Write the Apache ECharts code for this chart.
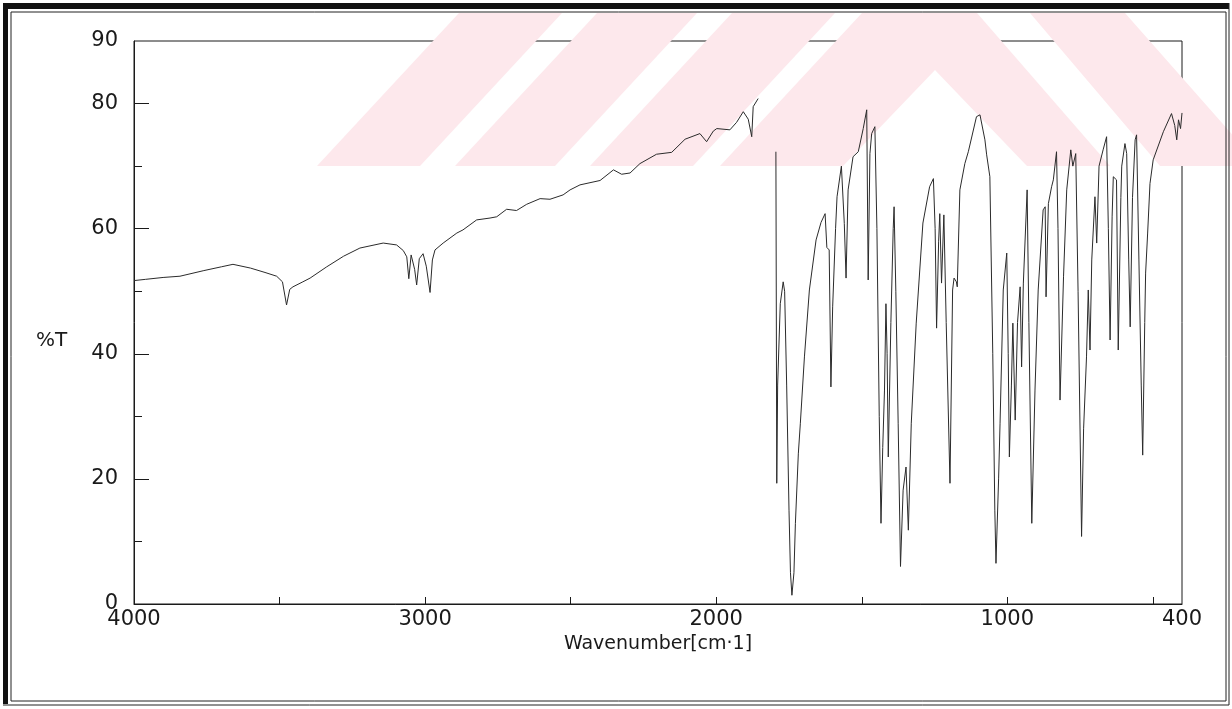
<!DOCTYPE html>
<html>
<head>
<meta charset="utf-8">
<title>IR spectrum</title>
<script src="https://cdn.jsdelivr.net/npm/echarts@6/dist/echarts.min.js"></script>
<style>
  html, body { margin: 0; padding: 0; background: #ffffff; }
  #chart { width: 1232px; height: 709px; }
</style>
</head>
<body>
<div id="chart"></div>
<script>
// Wavenumber (cm-1) and transmittance (%T) of the recorded spectrum, high to low wavenumber.
// A null marks the pen-lift between the two recorded sections.
const wavenumbers = [
  4000, 3960, 3900, 3842, 3760, 3700, 3660, 3600, 3550, 3510, 3490, 3476, 3465, 3454, 3420,
  3395, 3338, 3280, 3224, 3144, 3098, 3075, 3063, 3056, 3048, 3036, 3029, 3020, 3007, 2996,
  2983, 2975, 2966, 2938, 2891, 2870, 2823, 2777, 2754, 2720, 2686, 2651, 2605, 2571, 2526,
  2502, 2468, 2399, 2353, 2325, 2296, 2262, 2205, 2153, 2107, 2056, 2033, 2010, 1998, 1953,
  1930, 1907, 1890, 1884, 1878, 1873, 1856, 1830,
  1795, 1792, 1789, 1780, 1770, 1765, 1758, 1750, 1745, 1740, 1733, 1728, 1718, 1711, 1697,
  1680, 1657, 1640, 1626, 1620, 1612, 1606, 1600, 1590, 1585, 1570, 1560, 1554, 1547, 1530,
  1512, 1495, 1483, 1478, 1472, 1466, 1455, 1448, 1440, 1434, 1428, 1422, 1417, 1413, 1409,
  1400, 1392, 1389, 1383, 1375, 1367, 1358, 1348, 1340, 1330, 1313, 1290, 1267, 1254, 1248,
  1243, 1236, 1232, 1226, 1218, 1210, 1197, 1188, 1183, 1175, 1172, 1163, 1146, 1134, 1106,
  1094, 1077, 1071, 1060, 1050, 1043, 1039, 1030, 1025, 1014, 1002, 997, 993, 986, 981,
  973, 965, 956, 951, 945, 932, 926, 916, 905, 894, 877, 870, 867, 859, 848,
  842, 831, 826, 819, 807, 796, 782, 775, 765, 757, 745, 738, 728, 722, 716,
  710, 699, 693, 685, 671, 659, 653, 647, 640, 636, 625, 619, 610, 607, 596,
  590, 583, 578, 570, 561, 556, 548, 540, 535, 528, 525, 518, 510, 499, 464,
  436, 425, 418, 412, 405, 400
];
const transmittance = [
  51.7, 51.9, 52.2, 52.4, 53.3, 53.9, 54.3, 53.7, 53.0, 52.4, 51.5, 47.8, 50.3, 50.7, 51.5,
  52.1, 53.9, 55.6, 56.9, 57.7, 57.4, 56.5, 55.5, 52.0, 55.8, 53.5, 51.0, 55.2, 56.0, 54.0,
  49.8, 55.0, 56.6, 57.7, 59.3, 59.8, 61.4, 61.7, 61.9, 63.1, 62.9, 63.9, 64.8, 64.7, 65.4,
  66.2, 67.0, 67.7, 69.4, 68.7, 68.9, 70.4, 71.9, 72.2, 74.3, 75.2, 73.9, 75.6, 76.0, 75.8,
  77.0, 78.7, 77.5, 76.1, 74.7, 79.5, 80.8, null,
  72.3, 19.3, 35.0, 48.0, 51.5, 50.0, 35.0, 15.0, 5.0, 1.4, 5.0, 12.9, 24.0, 28.9, 39.5,
  50.2, 58.2, 61.0, 62.4, 57.0, 56.6, 34.7, 47.5, 60.0, 65.1, 70.0, 60.8, 52.1, 66.2, 71.5,
  72.3, 76.0, 79.0, 51.8, 72.0, 75.2, 76.3, 60.0, 30.0, 12.9, 25.0, 34.2, 48.0, 40.0, 23.5,
  45.0, 60.0, 63.5, 50.0, 28.9, 6.0, 18.2, 21.9, 11.8, 28.9, 44.9, 60.9, 66.7, 68.0, 60.0,
  44.1, 58.0, 62.4, 51.3, 62.2, 45.0, 19.3, 50.2, 52.1, 51.5, 50.7, 66.2, 70.4, 72.3, 77.9,
  78.2, 74.2, 71.8, 68.3, 40.0, 15.0, 6.5, 20.0, 28.9, 50.2, 56.1, 40.0, 23.5, 35.0, 44.9,
  29.4, 45.0, 50.7, 37.9, 51.3, 66.2, 45.0, 12.9, 34.2, 50.2, 63.0, 63.5, 49.1, 64.0, 66.7,
  67.8, 72.3, 60.0, 32.6, 52.3, 66.2, 72.6, 70.0, 72.0, 50.0, 10.8, 28.0, 39.5, 50.2, 40.6,
  55.0, 65.1, 57.7, 70.0, 72.6, 74.7, 60.0, 42.2, 62.0, 68.3, 67.8, 40.6, 65.0, 70.0, 73.6,
  72.0, 55.0, 44.3, 65.0, 74.2, 75.0, 55.0, 35.0, 23.8, 45.0, 52.9, 59.3, 67.2, 71.0, 75.5,
  78.4, 76.5, 74.2, 77.4, 76.0, 78.5
];

// Axis ticks and labels
const xLabelValues = [4000, 3000, 2000, 1000, 400];
const xTickValues = [3500, 3000, 2500, 2000, 1500, 1000, 500];
const yLabelValues = [0, 20, 40, 60, 80, 90];
const yMajorTicks = [20, 40, 60, 80];
const yMinorTicks = [10, 30, 50, 70];

const xTitle = 'Wavenumber[cm·1]';
const yTitle = '%T';

const spectrum = wavenumbers.map((w, i) => [w, transmittance[i] === null ? '-' : transmittance[i]]);

const ink = '#1a1a1a';
const pink = '#fde8ec';
const labelFont = 'DejaVu Sans';
const plainNumber = v => String(v);

// Faint background emblem: diagonal bands and a chevron along the top strip
const yTop = 13, yBot = 166;
const emblem = [
  [[317, yBot], [420, yBot], [562, yTop], [459, yTop]],
  [[455, yBot], [555, yBot], [697, yTop], [597, yTop]],
  [[590, yBot], [693, yBot], [835, yTop], [732, yTop]],
  [[720, yBot], [862, yTop], [977, yTop], [1110, yBot], [1027, yBot], [935, 70], [843, yBot]],
  [[1030, yTop], [1125, yTop], [1260, yBot], [1160, yBot]]
].map(pts => ({
  type: 'polygon',
  silent: true,
  z: 0,
  shape: { points: pts },
  style: { fill: pink }
}));

// Double page frame
const frame = [
  { type: 'rect', shape: { x: 3, y: 3, width: 5, height: 701 }, style: { fill: '#111' } },
  { type: 'rect', shape: { x: 3, y: 3, width: 1226, height: 6 }, style: { fill: '#111' } },
  { type: 'line', shape: { x1: 11, y1: 12, x2: 1226, y2: 12 }, style: { stroke: '#222', lineWidth: 1 } },
  { type: 'line', shape: { x1: 11, y1: 12, x2: 11, y2: 701 }, style: { stroke: '#222', lineWidth: 1 } },
  { type: 'line', shape: { x1: 1226, y1: 12, x2: 1226, y2: 701 }, style: { stroke: '#222', lineWidth: 1 } },
  { type: 'line', shape: { x1: 1229, y1: 3, x2: 1229, y2: 705 }, style: { stroke: '#222', lineWidth: 1 } },
  { type: 'line', shape: { x1: 11, y1: 701, x2: 1226, y2: 701 }, style: { stroke: '#222', lineWidth: 1 } },
  { type: 'line', shape: { x1: 3, y1: 705, x2: 1229, y2: 705 }, style: { stroke: '#222', lineWidth: 1 } }
].map(g => Object.assign({ silent: true, z: 20 }, g));

const titleY = {
  type: 'text',
  silent: true,
  z: 20,
  left: 36,
  top: 331,
  style: { text: yTitle, fill: ink, font: '20px "DejaVu Sans"' }
};

const chart = echarts.init(document.getElementById('chart'), null, { renderer: 'canvas' });

chart.setOption({
  animation: false,
  backgroundColor: '#ffffff',
  graphic: { elements: emblem.concat(frame, [titleY]) },
  grid: {
    left: 134, right: 50, top: 41, bottom: 105,
    show: true, borderColor: ink, borderWidth: 1, backgroundColor: 'transparent'
  },
  xAxis: {
    type: 'value',
    inverse: true,
    min: 400,
    max: 4000,
    interval: 100,
    name: xTitle,
    nameLocation: 'middle',
    nameGap: 23,
    nameTextStyle: { color: ink, fontFamily: labelFont, fontSize: 19 },
    axisLine: { show: true, lineStyle: { color: ink, width: 1 } },
    axisTick: { show: true, inside: true, length: 7, customValues: xTickValues, lineStyle: { color: ink } },
    axisLabel: {
      show: true, margin: 5, customValues: xLabelValues, formatter: plainNumber,
      color: ink, fontFamily: labelFont, fontSize: 21
    },
    splitLine: { show: false }
  },
  yAxis: [
    {
      type: 'value',
      min: 0,
      max: 90,
      interval: 10,
      axisLine: { show: true, lineStyle: { color: ink, width: 1 } },
      axisTick: { show: true, inside: true, length: 15, customValues: yMajorTicks, lineStyle: { color: ink } },
      axisLabel: {
        show: true, margin: 16, customValues: yLabelValues, formatter: plainNumber,
        color: ink, fontFamily: labelFont, fontSize: 21
      },
      splitLine: { show: false }
    },
    {
      type: 'value',
      position: 'left',
      min: 0,
      max: 90,
      interval: 10,
      axisLine: { show: false },
      axisTick: { show: true, inside: true, length: 8, customValues: yMinorTicks, lineStyle: { color: ink } },
      axisLabel: { show: false },
      splitLine: { show: false }
    }
  ],
  series: [
    {
      type: 'line',
      data: spectrum,
      showSymbol: false,
      connectNulls: false,
      smooth: false,
      z: 5,
      lineStyle: { color: '#2b2b2b', width: 1 }
    }
  ]
});
</script>
</body>
</html>
